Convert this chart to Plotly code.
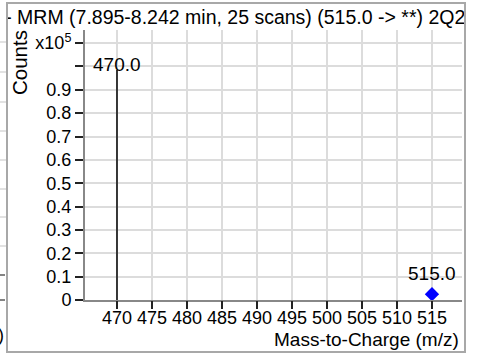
import plotly.graph_objects as go

# ---- data (counts in absolute units) ----
product_mz = [470.0]
product_counts = [98500]
precursor_mz = [515.0]
precursor_counts = [2500]
scale = 1e5

x_ticks = [470, 475, 480, 485, 490, 495, 500, 505, 510, 515]
y_ticks = [0, 0.1, 0.2, 0.3, 0.4, 0.5, 0.6, 0.7, 0.8, 0.9, 1.0, 1.1]
y_ticktext = ["0", "0.1", "0.2", "0.3", "0.4", "0.5", "0.6", "0.7", "0.8", "0.9", " ", "x10<sup>5</sup>"]

title_text = "- MRM (7.895-8.242 min, 25 scans) (515.0 -> **) 2Q2"
x_title = "Mass-to-Charge (m/z)"
y_title = "Counts"

FONT = "Liberation Sans, Arial, sans-serif"
W, H = 480, 355
XR = [465.43, 519.29]


def px(xp):
    return xp / W


def py(yp):
    return (H - yp) / H


fig = go.Figure()

# stick lines for product ions
sx, sy = [], []
for m, c in zip(product_mz, product_counts):
    sx += [m, m, None]
    sy += [0, c / scale, None]
fig.add_trace(go.Scatter(x=sx, y=sy, mode="lines", line=dict(color="black", width=1.5),
                         hoverinfo="skip", showlegend=False))

# precursor marker
fig.add_trace(go.Scatter(x=precursor_mz, y=[c / scale for c in precursor_counts], mode="markers",
                         marker=dict(symbol="diamond", size=11, color="#0000ff"),
                         showlegend=False))

# invisible trace carrying the long tick marks axis
fig.add_trace(go.Scatter(x=precursor_mz, y=[0], xaxis="x2", yaxis="y", mode="markers",
                         marker=dict(opacity=0), hoverinfo="skip", showlegend=False))

# title as clipped text in its own band
fig.add_trace(go.Scatter(x=[-0.004], y=[0.5], xaxis="x3", yaxis="y3", mode="text", text=[title_text],
                         textposition="middle right", cliponaxis=True, hoverinfo="skip",
                         textfont=dict(family=FONT, size=19.5, color="black"), showlegend=False))

annotations = []
for m, c in zip(product_mz, product_counts):
    annotations.append(dict(x=m, y=c / scale, xref="x", yref="y", text=f"{m:.1f}", showarrow=False,
                            yanchor="bottom", yshift=-7, font=dict(family=FONT, size=19, color="black")))
for m, c in zip(precursor_mz, precursor_counts):
    annotations.append(dict(x=m, y=c / scale, xref="x", yref="y", text=f"{m:.1f}", showarrow=False,
                            yanchor="bottom", yshift=8, font=dict(family=FONT, size=19, color="black")))

# y axis title
annotations.append(dict(x=px(20), y=py(63), xref="paper", yref="paper", text=y_title, showarrow=False,
                        textangle=-90, xanchor="center", yanchor="middle",
                        font=dict(family=FONT, size=20.5, color="black")))
# x axis title
annotations.append(dict(x=px(461), y=py(339), xref="paper", yref="paper", text=x_title, showarrow=False,
                        xanchor="right", yanchor="middle",
                        font=dict(family=FONT, size=19, color="black")))
# neighbour panel fragment
annotations.append(dict(x=px(6), y=py(335), xref="paper", yref="paper", text=")", showarrow=False,
                        xanchor="right", yanchor="middle",
                        font=dict(family=FONT, size=18, color="black")))

shapes = []
for yy in [42, 72, 102, 131, 160, 189, 217, 246]:
    shapes.append(dict(type="line", xref="paper", yref="paper", x0=px(0), x1=px(6), y0=py(yy), y1=py(yy),
                       line=dict(color="#d8d8d8", width=1.5)))
for yy in [275, 300]:
    shapes.append(dict(type="line", xref="paper", yref="paper", x0=px(0), x1=px(5), y0=py(yy), y1=py(yy),
                       line=dict(color="#333333", width=1.2)))
# panel border
shapes.append(dict(type="rect", xref="paper", yref="paper", x0=px(7), x1=px(465), y0=py(352), y1=py(3),
                   line=dict(color="#a8a8a8", width=2), fillcolor="rgba(0,0,0,0)"))

fig.update_layout(
    template="none",
    width=W, height=H,
    margin=dict(l=0, r=0, t=0, b=0, pad=0),
    paper_bgcolor="white", plot_bgcolor="rgba(0,0,0,0)",
    showlegend=False,
    annotations=annotations,
    shapes=shapes,
    xaxis=dict(domain=[px(85), px(462)], range=XR, tickvals=x_ticks, ticktext=[str(t) for t in x_ticks],
               ticks="outside", ticklen=0, tickwidth=1.5, tickcolor="#222222", automargin=False,
               showline=True, linecolor="#888888", linewidth=2,
               showgrid=True, gridcolor="#dcdcdc", gridwidth=1.5, zeroline=False,
               tickfont=dict(family=FONT, size=18, color="black")),
    xaxis2=dict(domain=[px(85), px(462)], range=XR, overlaying="x", anchor="y", side="bottom",
                tickvals=x_ticks, ticks="outside", ticklen=8, tickwidth=1.5, tickcolor="#222222",
                automargin=False,
                showticklabels=False, showgrid=False, showline=False, zeroline=False),
    yaxis=dict(domain=[py(300), py(30)], range=[0, 1.156], tickvals=y_ticks, ticktext=y_ticktext,
               ticks="outside", ticklen=8, tickwidth=1.5, tickcolor="#222222", automargin=False,
               showline=True, linecolor="#888888", linewidth=2,
               showgrid=True, gridcolor="#dcdcdc", gridwidth=1.5, zeroline=False,
               tickfont=dict(family=FONT, size=18, color="black")),
    xaxis3=dict(domain=[px(7), px(465)], range=[0, 1], anchor="y3", visible=False, fixedrange=True,
                automargin=False),
    yaxis3=dict(domain=[py(34), py(4)], range=[0, 1], anchor="x3", visible=False, fixedrange=True,
                automargin=False),
)

fig.write_html("out.html", config={"displayModeBar": False},
               post_script="document.body.style.margin='0';document.body.style.overflow='hidden';")
